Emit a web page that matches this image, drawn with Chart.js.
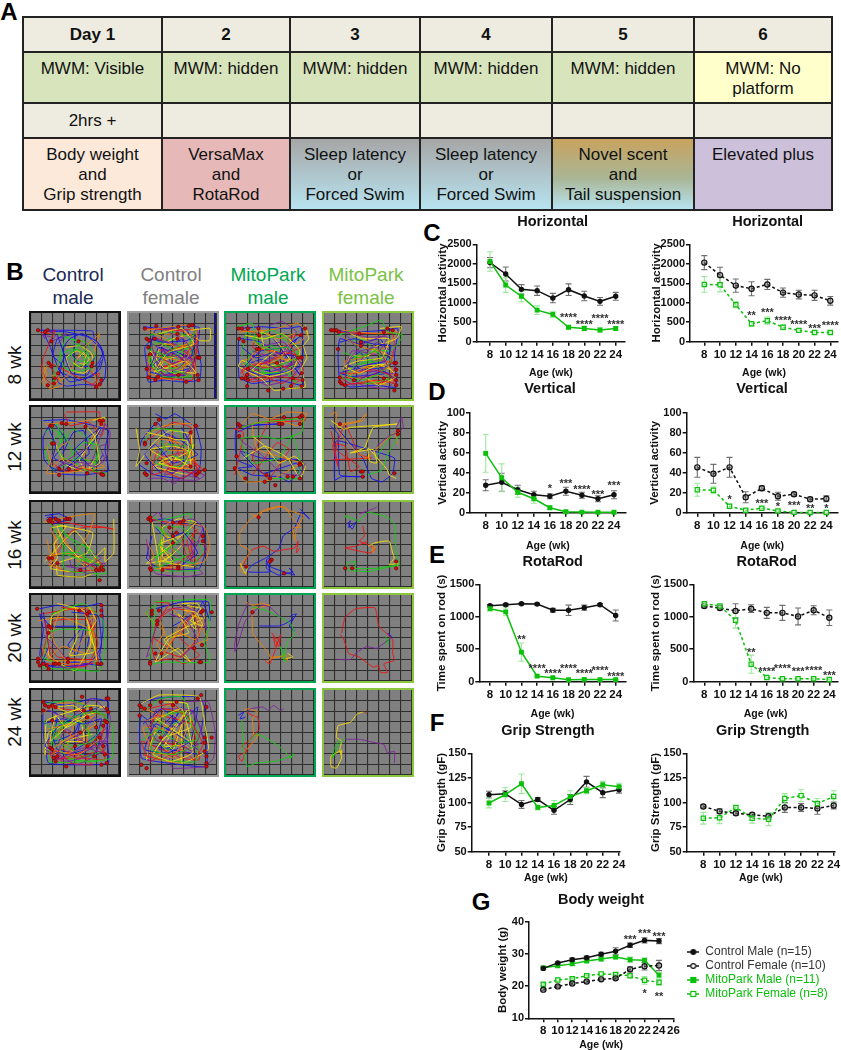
<!DOCTYPE html>
<html>
<head>
<meta charset="utf-8">
<title>MitoPark behaviour</title>
<script src="https://cdn.jsdelivr.net/npm/chart.js@4/dist/chart.umd.min.js"></script>
<style>
  html, body { margin: 0; background: #fff; }
  #page { position: relative; width: 841px; height: 1050px; overflow: hidden; font-family: "Liberation Sans", Arial, sans-serif; }
  #page canvas { position: absolute; }
  .txt { position: absolute; white-space: nowrap; transform: translate(-50%, -50%); line-height: 1; }
  .arena { position: absolute; box-sizing: border-box; border-style: solid; border-width: 2px; background: #808080; }
  table { position: absolute; left: 22px; top: 16px; width: 809px; height: 194px; border-collapse: collapse; table-layout: fixed; font-size: 17px; color: #111; }
  td { border: 2px solid #222; padding: 6px 0 0; text-align: center; vertical-align: top; line-height: 20px; }
  tr.mid td { vertical-align: middle; padding: 0; font-weight: bold; }
  tr.plain td { vertical-align: middle; padding: 0; }
  .d { background: #eeece1; }
  .g { background: #d8e4bc; }
  .y { background: #ffffcc; }
</style>
</head>
<body>
<div id="page">
  <table>
    <colgroup><col style="width:139px"><col style="width:128px"><col style="width:130px"><col style="width:132px"><col style="width:142px"><col style="width:138px"></colgroup>
    <tr class="mid" style="height:35px"><td class="d">Day 1</td><td class="d">2</td><td class="d">3</td><td class="d">4</td><td class="d">5</td><td class="d">6</td></tr>
    <tr style="height:51px"><td class="g">MWM: Visible</td><td class="g">MWM: hidden</td><td class="g">MWM: hidden</td><td class="g">MWM: hidden</td><td class="g">MWM: hidden</td><td class="y">MWM: No<br>platform</td></tr>
    <tr class="plain" style="height:35px"><td class="d">2hrs +</td><td class="d"></td><td class="d"></td><td class="d"></td><td class="d"></td><td class="d"></td></tr>
    <tr style="height:72px">
      <td style="background:#fde9d9">Body weight<br>and<br>Grip strength</td>
      <td style="background:#e6b8b7">VersaMax<br>and<br>RotaRod</td>
      <td style="background:linear-gradient(#a6a6a6,#b7e3f0)">Sleep latency<br>or<br>Forced Swim</td>
      <td style="background:linear-gradient(#a6a6a6,#b7e3f0)">Sleep latency<br>or<br>Forced Swim</td>
      <td style="background:linear-gradient(#c8a35f,#a9b594 55%,#b7e3f0)">Novel scent<br>and<br>Tail suspension</td>
      <td style="background:#ccc0da">Elevated plus</td>
    </tr>
  </table>
</div>

<script>
const ages = [8, 10, 12, 14, 16, 18, 20, 22, 24];
const bodyAgeTicks = [8, 10, 12, 14, 16, 18, 20, 22, 24, 26];

// panel C
const horizCtlM = [2030, 1738, 1344, 1310, 1120, 1335, 1173, 1036, 1165];
const horizCtlMErr = [130, 180, 120, 120, 120, 150, 120, 100, 100];
const horizMitM = [2060, 1455, 1165, 810, 700, 370, 340, 300, 340];
const horizMitMErr = [250, 190, 140, 110, 80, 40, 60, 50, 40];
const horizMaleStars = [[18, 660, "****"], [20, 490, "****"], [22, 625, "****"], [24, 490, "****"]];
const horizCtlF = [2030, 1710, 1440, 1360, 1470, 1260, 1210, 1190, 1050];
const horizCtlFErr = [180, 200, 170, 180, 130, 120, 110, 130, 110];
const horizMitF = [1470, 1460, 950, 460, 540, 370, 290, 235, 235];
const horizMitFErr = [200, 180, 80, 60, 90, 60, 40, 40, 30];
const horizFemaleStars = [[14, 700, "**"], [16, 790, "***"], [18, 580, "****"], [20, 470, "****"], [22, 385, "***"], [24, 445, "****"]];

// panel D
const vertCtlM = [27.5, 30.5, 23, 18, 16.5, 21.5, 17.5, 14, 18];
const vertCtlMErr = [5.5, 9, 4.5, 3.5, 2.5, 4, 3, 3, 4];
const vertMitM = [59.5, 35, 20.5, 14, 5, 1, 0.6, 0.5, 0.5];
const vertMitMErr = [19, 14, 5, 4.5, 1.5, 0.8, 0.5, 0.4, 0.4];
const vertMaleStars = [[16, 26, "*"], [18, 31, "***"], [20, 25, "****"], [22, 20, "***"], [24, 29, "***"]];
const vertCtlF = [45.5, 39, 45.5, 15.5, 24.5, 16.5, 18.5, 13.5, 14];
const vertCtlFErr = [10, 9.5, 10, 5.5, 2.5, 4, 2, 2, 3];
const vertMitF = [23, 22.5, 6.5, 2.5, 4.5, 1.8, 0.3, 0.2, 0.2];
const vertMitFErr = [6.5, 3.5, 2, 1, 1, 1, 0.4, 0.3, 0.3];
const vertFemaleStars = [[12, 15, "*"], [16, 11, "***"], [18, 8, "*"], [20, 8.5, "***"], [22, 6, "**"], [24, 6, "*"]];

// panel E
const rotaCtlM = [1170, 1185, 1200, 1195, 1100, 1100, 1140, 1185, 1020];
const rotaCtlMErr = [20, 20, 15, 15, 30, 80, 40, 20, 85];
const rotaMitM = [1125, 1075, 455, 85, 60, 30, 35, 32, 32];
const rotaMitMErr = [40, 60, 140, 15, 10, 8, 10, 8, 6];
const rotaMaleStars = [[12, 670, "**"], [14, 220, "****"], [16, 150, "****"], [18, 220, "****"], [20, 145, "****"], [22, 190, "****"], [24, 110, "****"]];
const rotaCtlF = [1165, 1135, 1090, 1125, 1060, 1060, 1005, 1100, 985];
const rotaCtlFErr = [25, 30, 110, 60, 85, 115, 130, 70, 120];
const rotaMitF = [1200, 1165, 945, 270, 65, 45, 45, 45, 35];
const rotaMitFErr = [20, 20, 120, 140, 20, 12, 10, 10, 8];
const rotaFemaleStars = [[14, 480, "**"], [16, 180, "****"], [18, 220, "****"], [20, 180, "***"], [22, 190, "****"], [24, 120, "***"]];

// panel F
const gripCtlM = [108, 109, 98, 103, 92, 103, 121, 110, 113];
const gripCtlMErr = [3.5, 3, 4, 2, 4, 5, 5.5, 5, 3.5];
const gripMitM = [99.5, 108, 119, 95, 97, 106, 112, 118, 116];
const gripMitMErr = [5, 7, 10, 2.5, 5, 6, 3, 3.5, 3.5];
const gripCtlF = [96, 91, 89, 87.5, 86, 95, 95, 94, 97];
const gripCtlFErr = [1.5, 2.5, 2, 1.5, 3, 5, 4, 6, 3.5];
const gripMitF = [84, 84.5, 95, 84, 83, 104, 107, 99, 106];
const gripMitFErr = [6, 6, 2, 5, 6.5, 5, 6, 5, 6];

// panel G
const bodyCtlM = [25.5, 27.2, 28.2, 28.8, 29.9, 30.8, 32.7, 34.2, 34];
const bodyCtlMErr = [0.4, 0.3, 0.5, 0.5, 0.6, 1.1, 0.7, 0.8, 0.8];
const bodyCtlF = [18.9, 19.9, 20.8, 21.4, 22.1, 22.4, 25.2, 26.2, 26.4];
const bodyCtlFErr = [0.3, 0.3, 0.3, 0.3, 0.3, 0.3, 0.8, 1.2, 1.6];
const bodyMitM = [25.7, 26.3, 26.9, 27.8, 28.4, 29, 28.2, 28, 23.4];
const bodyMitMErr = [0.3, 0.5, 0.5, 0.4, 0.6, 0.6, 0.8, 0.8, 0.8];
const bodyMitF = [20.6, 21.9, 22.3, 23.2, 23.8, 23.6, 23.2, 21.8, 21.2];
const bodyMitFErr = [0.4, 0.3, 0.4, 0.5, 0.5, 0.5, 0.6, 1.2, 1];
const bodyStars = [[20, 35, "***"], [22, 36.9, "***"], [24, 36, "***"], [22, 18.2, "*"], [24, 17.2, "**"]];
const bodyLabels = ["Control Male (n=15)", "Control Female (n=10)", "MitoPark Male (n=11)", "MitoPark Female (n=8)"];

// panel B, open field tracks, percent of the box
// colours repeat every six rows: blue, red, orange, yellow, green, purple
const trackColors = ["#1010f0", "#f01010", "#f08000", "#f5e000", "#10d010", "#8020a0"];

const wk8CtlM = [
  [8,20,30,20,70,21,72,30,80,40,85,60,84,75,78,84,60,83,40,85,30,80,35,60,25,50,30,30,50,25,48,50,60,62,75,60,82,45,65,28,40,22,15,22,22,40,33,68,55,78,72,72,80,55],
  [10,22,20,24,28,20,22,32,14,52,12,66,18,78,26,84,32,76,24,66,20,58,30,62,72,84,80,80,74,86],
  [12,70,18,62,14,74,20,86,30,82,24,72,34,78,42,72,60,40,72,30,78,24,68,58,74,78,78,88],
  [40,40,55,38,68,46,72,60,60,70,45,66,40,52,52,44,62,50,58,64,48,58],
  [30,24,45,30,62,34,72,48,70,62,55,68,38,64,34,48,48,42,62,46,68,56,52,62,42,52,55,36,40,28,24,84,28,76],
  [18,20,28,26,22,34,40,24,30,36],
  [30,26,38,50,32,66,44,80,62,76,78,66,82,50,76,34,58,24,44,30,36,42,46,70,64,72,72,52],
  [66,66,72,72,78,70,74,80,68,84],
  [14,60,18,72,12,80,22,88,36,84,30,72],
  [54,52,60,46,66,54,60,60,54,58],
  [46,34,58,40,66,48,60,56,50,54,44,46,54,42,64,60,70,68],
  [12,24,16,30,14,26,24,28]
];
const wk8CtlMDots = [8,20,16,22,19,20,23,33,54,33,20,58,23,62,31,70,27,76,26,82,19,84,70,58,69,62,80,78,78,83,74,86];
const wk8CtlF = [
  [16,16,40,18,60,15,80,17,78,40,82,60,80,78,60,80,40,78,22,80,20,60,18,40,30,28,50,60,70,45,60,30,35,55,30,74,55,68,75,62,66,20,30,20,24,45,48,72,70,72],
  [18,18,50,20,78,20,76,48,72,78,45,76,24,76,22,50,40,42,60,55,40,62,62,62,78,44,50,36,28,28],
  [20,20,70,14,78,30,60,38,30,36,22,58,50,50,70,58,34,70,58,76,76,66,60,25,40,25],
  [70,20,92,18,92,32,80,32,70,25,50,30,35,40,30,62,52,70,70,68,60,50,40,55,30,72,26,50],
  [22,26,50,22,68,28,74,50,66,70,40,68,22,56,30,32,55,45,72,40,60,62,28,66,24,40,48,30,62,46,46,60],
  [30,30,56,38,70,52,50,58,28,50,40,44,66,44,74,66,50,72,32,58,50,46,68,60],
  [22,30,40,34,66,32,76,26,70,52,50,44,28,60,44,74,70,66,56,50,34,40,24,68,60,76],
  [22,62,40,72,66,70,74,56,56,40,36,50,52,62,68,44,78,32,64,22,44,18],
  [24,22,42,30,54,42,72,34,60,66,40,56,22,70,50,78,66,58,30,50],
  [34,24,60,18,74,36,44,46,30,68,64,56,76,70,40,64,24,44],
  [76,20,66,40,46,52,30,44,50,66,72,74,40,74,26,60,60,36],
  [44,22,62,30,72,46,54,66,34,64,26,36,48,50,74,54,62,72,38,72]
];
const wk8CtlFDots = [18,18,31,15,56,16,68,15,72,14,20,30,23,32,29,30,55,24,55,30,22,40,24,48,78,52,80,52,20,65,22,75,30,78,33,74,56,72,78,72,79,78,65,80];
const wk8MitM = [
  [14,18,40,16,70,18,85,16,88,40,86,60,88,84,60,78,30,82,15,75,14,50,15,30,40,34,60,48,80,30,62,60,40,54,25,60,52,68,74,60,84,72,50,24],
  [18,20,36,24,30,40,50,44,85,50,70,62,40,64,22,72,30,80,60,74,84,78,74,84,88,66,70,30,88,24],
  [15,22,50,20,82,12,92,24,84,34,60,40,40,50,18,56,30,72,66,66,86,56,56,52,30,32],
  [90,14,94,30,88,38,92,52,86,64,90,86,70,88,55,90,40,76,14,62,18,55,30,60,50,62,72,54,55,30,40,22,44,44],
  [12,16,30,12,34,30,60,28,82,40,78,60,56,70,24,66,28,46,52,38,64,50,40,70,72,70,80,82,24,22,18,50],
  [50,14,64,10,80,22,68,44,44,58,70,72,46,74,26,58,38,40,66,34,78,60,50,52,30,70],
  [18,40,34,52,54,46,76,50,84,62,62,70,38,72,20,64,40,44,66,40,86,26],
  [16,70,30,60,56,58,80,70,64,82,44,74,24,78,18,66,44,58,72,46,86,40],
  [40,20,60,30,78,24,62,52,40,62,28,50,46,40,70,56,82,52],
  [22,26,44,30,64,24,84,44,76,66,50,74,30,66,56,44],
  [20,58,44,66,68,58,84,50,70,40,46,42,30,30,52,20,72,30],
  [30,44,48,50,72,44,86,60,70,78,46,84,24,70,40,56,62,68,80,56]
];
const wk8MitMDots = [14,18,18,18,25,18,37,18,38,26,15,30,20,33,35,42,38,42,90,18,85,26,82,52,86,52,25,65,24,72,22,76,25,78,18,76,24,85,86,70,87,78,86,85,76,76,74,85,65,88,48,90,58,58];
const wk8MitF = [
  [10,20,40,22,70,20,84,18,80,50,82,86,60,84,30,86,18,80,16,50,18,30,40,36,64,30,76,60,48,66,26,60,40,46,70,70,30,74],
  [12,22,45,24,78,24,80,40,74,62,50,74,20,76,30,82,70,80,82,60,60,55,40,70],
  [20,20,60,24,84,22,70,40,44,52,24,56,32,76,60,72,80,80,66,46,44,28],
  [64,18,88,16,82,30,60,38,50,50,30,50,22,66,46,62,70,60,82,74,62,84,46,74],
  [16,26,50,14,65,8,72,22,90,26,76,44,48,42,28,58,18,74,50,82,74,76,56,58,30,32,46,32,66,54,40,60],
  [14,20,50,28,72,28,60,48,32,44,22,70,44,84,72,88,84,72,56,68,34,66,60,34,78,46],
  [18,34,34,30,56,36,76,38,70,56,50,60,30,66,18,70,40,76,68,68,80,76],
  [18,70,36,70,56,66,74,72,82,82,60,78,36,82,20,84],
  [24,30,44,40,62,44,78,52,66,62,44,64,26,74,50,78,72,84],
  [30,24,44,30,74,30,66,52,38,56,24,62,40,70,62,60,76,66],
  [22,46,40,52,58,44,76,56,64,70,44,78,26,72,36,60,56,54],
  [26,26,40,44,60,40,72,62,50,70,34,84,24,78,30,52,48,34,70,26]
];
const wk8MitFDots = [8,20,11,20,14,20,17,22,40,24,68,22,72,18,78,20,42,34,42,38,16,42,80,58,82,58,82,66,82,72,82,78,82,84,80,90,18,75,18,80,20,82,24,84,34,78,68,76];

const wk12CtlM = [
  [14,16,40,15,72,22,88,28,84,50,88,75,60,80,30,78,15,62,14,35,24,18,40,40,26,60,45,68,66,55,60,28,48,30,36,55],
  [40,6,78,6,78,14,84,20,80,34,66,18,44,22,38,8],
  [16,20,50,18,80,14,72,30,60,60,84,70,50,76,18,78,28,50,44,40],
  [70,16,84,12,80,24,55,62,62,76,40,68,28,44],
  [16,30,30,20,34,42,48,26,68,40,76,66,54,60,26,74,16,52,36,28,55,72,86,78],
  [30,62,48,70,64,76,86,58,90,30,84,20,68,66,46,64,28,72,60,50],
  [20,24,28,46,22,70,36,76,52,60,72,40,80,24,64,36,50,50,70,72,82,56],
  [24,66,40,76,60,72,76,78,84,74],
  [18,46,24,70,36,60,54,70,72,74],
  [60,20,72,34,78,66,66,72,72,62],
  [24,26,36,34,30,50,40,62,60,42,78,46,70,76],
  [50,72,62,68,74,70,84,62,78,46,88,44]
];
const wk12CtlMDots = [22,22,24,22,35,19,40,20,62,23,78,16,82,16,80,20,24,43,26,43,32,73,43,73,64,78,80,79,82,80,32,80];
const wk12CtlF = [
  [30,8,42,14,52,8,68,18,76,24,82,48,80,72,60,84,30,80,10,66,14,40,32,18,48,46,28,66,50,78,72,50,60,24],
  [20,40,50,18,70,24,70,50,78,78,50,72,32,52,26,80,60,66,46,34,76,66,84,74,60,54,30,62],
  [18,34,40,22,72,20,68,60,50,80,24,62,36,38,62,44,76,62,40,62],
  [8,25,12,50,8,70,28,42,46,28,70,32,72,62,40,60,24,50,50,46,68,52,46,64,28,70,66,80],
  [16,42,28,26,56,28,64,46,42,44,30,66,56,70,74,58],
  [22,84,38,84,52,90,62,80,80,84,60,74,40,80,70,30,80,22],
  [40,30,60,40,78,56,50,66,30,44,18,56,36,78],
  [40,64,56,74,72,66,78,72,60,84,42,76,56,62],
  [50,30,40,50,64,52,72,72,46,70,30,56],
  [20,30,38,34,52,38,66,40,70,70,50,58,34,66,60,72,74,44],
  [36,40,48,56,64,62,72,42],
  [72,76,86,80,78,86,58,86,46,86]
];
const wk12CtlFDots = [34,15,30,20,70,30,76,22,18,42,18,44,20,66,18,78,20,80,70,70,78,78,80,76,86,74,76,80];
const wk12MitM = [
  [12,30,30,22,60,20,12,24,12,62,30,70,14,72,30,80,60,82,72,88,84,74,80,66,42,78,16,52,40,60,82,62],
  [10,80,14,62,20,30,10,26,40,18,90,16,88,10,72,14,50,16,30,60,48,84,72,50,58,42,30,80],
  [16,22,30,8,50,14,70,6,92,8,82,22,60,16,30,20,36,50,84,66,50,86,22,88,10,70],
  [30,34,44,46,60,66,78,58,90,70,84,84,70,60,44,46,20,60],
  [16,24,40,18,88,14,86,30,60,38,40,34,16,38,30,66,60,60,76,34,84,64,82,84,50,84],
  [10,30,20,42,40,56,64,78,84,80,90,66]
];
const wk12MitMDots = [14,20,16,22,15,34,60,20,64,20,66,12,86,10,84,12,84,20,84,66,84,68,12,58,10,72,22,84,44,88,46,80,50,84,70,82,76,82,84,84,56,92];
const wk12MitF = [
  [7,22,16,32,18,80,46,82,20,82,12,86,14,40,50,50,80,60,78,78,66,88,54,84,44,60,14,24],
  [8,28,16,70,10,44,24,46,30,76,40,70,14,50,24,20,40,56,54,60,10,62],
  [6,10,14,6,14,20,40,16,48,8,44,16,14,24,34,50,48,60,80,30,84,44],
  [8,16,22,26,30,24,84,20,56,24,46,48,30,54,56,50,60,66,52,64,50,48,72,74,74,80,82,84],
  [60,58,68,46,78,32,86,32,72,56,66,74,50,80],
  [82,24,88,12,90,24,84,30,74,34,60,46]
];
const wk12MitFDots = [18,20,84,28,84,32,42,76,44,76,44,82,80,78];

const wk16CtlM = [
  [18,18,28,18,34,22,24,26,18,20],
  [20,24,40,24,70,30,84,30,94,32,72,28,46,34,30,60,20,70,40,82,74,80],
  [14,24,40,18,72,14,66,36,50,60,30,34,24,70,18,64,40,60,78,72,52,68,72,84],
  [94,20,94,60,84,70,84,54,64,74,38,48,30,28,70,36,64,60,30,72,30,86,60,88,80,78,50,34,16,70],
  [22,24,36,50,38,80,70,84,86,84,68,56,40,40,30,26,66,70,36,60,56,60,78,90],
  [56,70,70,74,84,72,82,80,64,84,46,76,44,68],
  [16,16,32,14,44,20,30,24,22,14],
  [60,70,74,78,82,74,72,66],
  [22,30,30,50,26,68,20,74,34,78,22,60,18,44],
  [24,30,40,28,26,50,30,66,22,78,44,82],
  [30,40,46,62,60,50,72,70,84,78,60,66,50,80],
  [40,76,60,78,80,66,70,60]
];
const wk16CtlMDots = [20,22,22,20,24,24,28,20,32,22,40,20,42,20,44,20,20,66,24,66,30,72,56,80,74,80,78,80,80,76,82,80,78,92];
const wk16CtlF = [
  [24,22,40,20,60,24,84,30,86,62,80,78,50,80,30,76,20,66,26,40],
  [24,20,56,26,70,28,82,40,88,56,76,70,70,50,74,36,70,60,56,72,40,78,62,80],
  [20,46,28,62,24,78,56,76,86,70,92,50,86,30,60,24,34,50,46,66],
  [26,22,36,80,38,30,56,20,76,24,36,60,20,72,42,68,60,50,40,40,38,64,46,72,74,76],
  [26,16,34,22,70,14,66,40,28,66,50,50,30,28,70,60,26,80,80,80,50,54],
  [26,18,34,12,40,26,72,20,84,30,70,70,84,84,66,88,30,84,22,60,20,44],
  [30,30,44,44,62,36,78,60,60,74],
  [60,40,64,60,72,70,66,46,78,32],
  [36,28,50,58,30,72,44,82],
  [40,56,48,62,38,70,50,70,34,50,58,40],
  [34,48,52,66,74,72,84,56,60,30,40,30,30,78],
  [44,34,62,52,80,46,64,70]
];
const wk16CtlFDots = [22,20,24,18,25,22,50,24,58,24,62,22,84,40,84,46,50,40,46,30,54,36,50,48,24,78,25,80,38,80,56,76,56,78];
const wk16MitM = [
  [84,8,95,20,86,12,78,30,65,40,60,55,45,66,30,74,24,82,50,82,46,68,50,66,50,76,78,86,72,78,76,82,60,86,46,78,46,68],
  [20,74,24,64,30,56,42,52,55,58,66,56,78,54,82,46,80,60,84,54],
  [28,14,37,18,42,10,60,5,72,10,88,16,80,32,78,46,76,30,85,30,76,20,66,5,40,12,28,20,16,36,16,50,28,58,18,72,16,80,24,86],
  [16,72,22,84,25,76],
  [],
  []
];
const wk16MitMDots = [37,18,23,76,52,68,50,70,66,84];
const wk16MitF = [
  [26,26,30,22,28,30,36,24,32,32,28,26],
  [44,28,46,40,40,46,50,50,58,56,52,60,24,54,36,52,50,46],
  [55,50,56,60,58,52,54,58],
  [50,52,58,48,74,46,78,60,80,66,74,74,84,72,82,80],
  [26,20,24,16,40,22,50,12,72,18,80,26,82,60,86,74,76,76,50,82,28,80,26,72,36,70,36,78,60,78,84,74],
  [40,14,56,8,60,6]
];
const wk16MitFDots = [24,78,32,78,82,70,82,78];

const wk20CtlM = [
  [10,16,30,12,60,14,80,10,82,40,78,70,80,82,50,78,20,82,10,70,14,40,10,22,22,36,58,37,42,58,52,70,60,40,70,28,64,60],
  [12,22,50,16,74,20,70,50,76,78,40,82,12,78,18,50,26,30,50,28,66,30,72,74,30,72,22,60],
  [8,30,36,26,66,40,40,76,24,48,34,18,70,16,66,68,36,60,18,76,62,76],
  [30,10,60,18,68,56,50,88,20,70,24,24,50,14,52,50,44,70,72,66,64,28],
  [24,22,60,10,82,30,84,60,78,88,34,86,14,84,20,44,32,40,70,42,72,84],
  [14,46,30,62,50,84,70,78,80,66],
  [14,20,20,60,12,80,30,84,66,80,80,60,76,24,46,20],
  [16,30,22,70,36,84,64,82,76,56,60,20,34,14],
  [12,60,24,78,50,80,74,74,68,24],
  [66,14,74,30,66,44,72,60,76,84],
  [12,72,40,84,66,88],
  [24,78,42,86,60,80]
];
const wk20CtlMDots = [7,16,8,74,8,78,10,82,14,80,18,82,20,86,26,80,28,80,32,80,42,74,42,78,76,80,80,80,80,12,80,18,80,24,66,20,64,22,55,18,20,36,22,38,20,44];
const wk20CtlF = [
  [30,16,60,8,90,8,92,30,84,8,78,18,60,30,50,36],
  [28,8,46,10,32,30,26,60,30,76,50,74,62,80,80,70,58,50,70,24,44,60,28,50],
  [18,20,30,34,40,42,32,58,40,68,62,26,70,14,86,44,90,52,68,60,54,74,36,30,46,14,70,40],
  [60,10,78,10,86,28,72,24,76,40,56,22,68,44,46,50,30,78,56,62,70,78,40,52,80,30],
  [28,8,92,6,90,40,86,56,92,78,40,78,24,80,26,50,30,12,20,20,28,34],
  [24,68,20,72,30,40,42,18,64,14,84,24,88,40,70,10],
  [],
  [30,30,50,16,72,20,80,46,60,72,40,66],
  [56,10,70,22,84,30,76,52,56,44,38,70],
  [66,12,82,16,70,30,84,36,76,20,62,18],
  [],
  [46,22,66,30,78,54,58,72]
];
const wk20CtlFDots = [26,18,26,22,34,18,32,30,32,34,82,20,84,18,94,20,83,58,74,62,30,68,37,68,24,78,24,80,80,78,82,78];
const wk20MitM = [
  [38,36,60,36,66,34,76,28,74,24,80,22,72,36,78,42],
  [52,44,56,50,60,52,56,60,54,48,60,60,62,46,50,80,44,76],
  [22,8,30,12,40,10,50,12,30,16,30,34,30,44,42,60,48,66,50,72,60,72,64,72,70,76,68,70,52,74,46,78],
  [68,74,76,72,70,68],
  [30,14,46,18,62,26,74,34,78,46,70,54,66,72,62,60,68,78,62,70],
  [26,8,20,20,14,36,10,56,10,66,14,56,22,30,40,12,50,14,62,26]
];
const wk20MitMDots = [30,20];
const wk20MitF = [
  [72,44,76,48,74,46,78,50],
  [20,44,24,26,36,16,58,15,62,36,66,40,78,52,78,68,80,76,68,80,72,90,64,90,62,82,56,84,40,72,28,68,22,50,18,46],
  [],
  [],
  [70,48,72,56,74,50,70,58],
  [15,75,30,75,38,66,48,60,60,62,76,50]
];
const wk20MitFDots = [];

const wk24CtlM = [
  [16,14,40,18,70,10,88,14,86,50,88,86,60,88,20,86,14,50,14,24,30,28,26,60,50,50,60,18,50,70,80,50,72,76,30,70,22,44],
  [18,20,50,24,84,30,80,60,84,82,60,80,24,80,20,60,34,46,70,70,60,56,34,84,70,88,44,68],
  [12,28,30,16,60,16,72,30,50,40,40,66,24,76,60,70,66,44,40,30,30,56,60,84],
  [24,18,42,26,66,18,84,20,50,24,18,36,16,76,20,50,56,36,60,60,36,60,70,52],
  [18,16,46,12,74,24,92,40,92,80,66,84,20,84,30,40,62,40,70,80,30,60,46,28,80,72,42,82],
  [20,24,44,34,70,10,90,30,84,70,52,88,28,72,40,46,62,62,86,60,50,78,74,64],
  [14,40,36,34,60,40,80,34,70,66,40,76,16,66,30,44,56,28,78,20],
  [18,76,36,70,52,80,76,72,88,76,70,62,84,46,60,72,30,82],
  [18,46,44,40,60,26,74,40,44,56,24,70,54,76,80,56],
  [30,20,48,18,62,30,40,44,28,30,22,60,48,36,74,26],
  [14,36,32,56,48,66,70,60,86,30,66,26,40,36,24,60,46,82,76,84],
  [16,70,40,84,70,76,88,50,72,32,56,52,36,62,28,82,60,68,82,74]
];
const wk24CtlMDots = [14,14,16,18,14,24,20,20,24,18,28,20,58,8,86,10,88,10,86,22,88,26,84,36,86,38,82,42,74,44,64,32,60,24,68,22,24,36,56,50,64,66,78,56,82,66,22,68,24,70,26,80,28,84,30,78,84,76,86,86,80,88,40,90,50,66,72,78];
const wk24CtlF = [
  [12,16,30,10,50,8,80,8,86,20,82,50,88,60,88,90,60,88,30,84,14,80,12,50,14,30,40,50,60,20,34,70,66,60,50,30,24,64,80,76],
  [14,24,50,16,62,30,50,66,24,84,14,60,60,80,80,82,70,40,30,30,24,56,66,68],
  [14,20,40,34,36,64,60,86,30,80,16,44,50,50,70,70,74,38,44,18,22,72,54,76],
  [14,16,34,6,80,8,86,40,90,70,60,86,60,40,50,70,30,50,20,82,66,24,40,66,70,62,26,30],
  [16,26,36,10,60,8,70,30,40,46,30,80,76,84,78,40,52,24,20,46,44,70,72,52],
  [60,14,90,14,98,50,96,80,86,90,50,92,46,80,84,60,72,24,30,24,22,80,48,40],
  [16,40,38,22,58,40,78,20,70,60,44,74,18,70,30,40,54,52,78,70],
  [16,76,36,82,60,70,74,82,84,64,66,30,38,22,22,44],
  [20,36,48,28,66,44,50,80,30,70,20,56,44,42,62,72],
  [40,14,66,16,70,44,40,56,28,76,48,84,72,74,60,22,30,36],
  [14,60,34,46,56,62,78,58,62,26,42,30,24,70,50,76,76,66],
  [34,30,54,44,70,24,82,46,72,72,52,60,32,60,18,36]
];
const wk24CtlFDots = [12,18,14,20,18,22,24,18,12,30,36,14,50,18,54,14,78,10,82,6,88,20,36,56,86,56,94,56,86,62,86,72,88,78,88,86,88,90,14,88,20,92];
const wk24MitM = [
  [14,30,20,26,16,34,22,32],
  [24,26,30,30,36,32,38,46,34,50,26,60,18,66,24,72,14,78,18,84,22,74,28,62],
  [20,24,26,22,36,26,30,34,32,54,38,52,24,70],
  [],
  [18,36,20,70,24,90,34,86,56,84,68,80,76,78,76,75,74,80,60,66,36,52,26,60],
  [24,26,28,22,42,20,48,24,54,18,62,24,66,22]
];
const wk24MitMDots = [];
const wk24MitF = [
  [],
  [46,25,48,28],
  [],
  [44,26,38,28,30,38,16,42,14,56,20,60,18,70,20,80,14,92,8,90,8,78,18,72,20,76,20,70],
  [18,58,10,72,10,80,16,66,24,56],
  [24,58,40,58,58,62,68,64,72,74,80,72,80,86]
];
const wk24MitFDots = [];

const arenaTracks = [
  [wk8CtlM, wk8CtlF, wk8MitM, wk8MitF],
  [wk12CtlM, wk12CtlF, wk12MitM, wk12MitF],
  [wk16CtlM, wk16CtlF, wk16MitM, wk16MitF],
  [wk20CtlM, wk20CtlF, wk20MitM, wk20MitF],
  [wk24CtlM, wk24CtlF, wk24MitM, wk24MitF]
];
const arenaDots = [
  [wk8CtlMDots, wk8CtlFDots, wk8MitMDots, wk8MitFDots],
  [wk12CtlMDots, wk12CtlFDots, wk12MitMDots, wk12MitFDots],
  [wk16CtlMDots, wk16CtlFDots, wk16MitMDots, wk16MitFDots],
  [wk20CtlMDots, wk20CtlFDots, wk20MitMDots, wk20MitFDots],
  [wk24CtlMDots, wk24CtlFDots, wk24MitMDots, wk24MitFDots]
];

// ---- layout and styles ----
const page = document.getElementById("page");
const FONT = "'Liberation Sans', Arial, sans-serif";
const GREEN = "#0cc00c";
Chart.defaults.font.family = FONT;
Chart.defaults.animation = false;
Chart.defaults.responsive = false;

const styleCtlM = { borderColor: "#111", pointBackgroundColor: "#111", pointBorderColor: "#111", pointStyle: "circle", pointRadius: 2.1, errColor: "#6f6f6f" };
const styleCtlF = { borderColor: "#111", borderDash: [3, 2.5], pointBackgroundColor: "rgba(120,120,120,.45)", pointBorderColor: "#111", pointStyle: "circle", pointRadius: 2.6, errColor: "#6f6f6f" };
const styleMitM = { borderColor: GREEN, pointBackgroundColor: GREEN, pointBorderColor: GREEN, pointStyle: "rect", pointRadius: 2.6, errColor: "#9fe69f" };
const styleMitF = { borderColor: GREEN, borderDash: [3, 2.5], pointBackgroundColor: "rgba(255,255,255,.5)", pointBorderColor: GREEN, pointStyle: "rect", pointRadius: 3, errColor: "#9fe69f" };

function addText(text, x, y, size, color, bold, rotate) {
  const el = document.createElement("div");
  el.className = "txt";
  el.textContent = text;
  el.style.left = x + "px";
  el.style.top = y + "px";
  el.style.fontSize = size + "px";
  el.style.color = color;
  if (bold) el.style.fontWeight = "bold";
  if (rotate) el.style.transform = "translate(-50%,-50%) rotate(-90deg)";
  page.appendChild(el);
}

function addCanvas(parent, left, top, w, h) {
  const c = document.createElement("canvas");
  c.width = w;
  c.height = h;
  c.style.left = left + "px";
  c.style.top = top + "px";
  parent.appendChild(c);
  return c;
}

function pairs(flat) {
  const out = [];
  for (let i = 0; i < flat.length; i += 2) out.push({ x: flat[i], y: flat[i + 1] });
  return out;
}

// error bars and significance stars, both placed through the chart's scales
function extrasPlugin(cfg) {
  return {
    id: "extras",
    afterLayout(chart) {
      const mid = (chart.chartArea.left + chart.chartArea.right) / 2;
      const shift = cfg.titleX - cfg.canvasLeft - mid;
      chart.titleBlock.left += shift;
      chart.titleBlock.right += shift;
      if (chart.legend && cfg.legendGap) {
        // legend sits right of the axis, and it clips to its own box
        chart.legend.left = chart.chartArea.right + cfg.legendGap;
        chart.legend.right = chart.width;
        chart.legend.top += 2;
        chart.legend.bottom += 2;
      }
    },
    beforeDatasetsDraw(chart) {
      const ctx = chart.ctx, xs = chart.scales.x, ys = chart.scales.y;
      ctx.save();
      ctx.lineWidth = 1.1;
      for (let d = chart.data.datasets.length - 1; d >= 0; d--) {
        const ds = chart.data.datasets[d];
        ctx.strokeStyle = ds.errColor;
        ds.data.forEach((p, i) => {
          const px = xs.getPixelForValue(p.x);
          const hi = ys.getPixelForValue(p.y + ds.errs[i]);
          const lo = ys.getPixelForValue(p.y - ds.errs[i]);
          ctx.beginPath();
          ctx.moveTo(px, hi); ctx.lineTo(px, lo);
          ctx.moveTo(px - 3, hi); ctx.lineTo(px + 3, hi);
          ctx.moveTo(px - 3, lo); ctx.lineTo(px + 3, lo);
          ctx.stroke();
        });
      }
      ctx.restore();
    },
    afterDatasetsDraw(chart) {
      const ctx = chart.ctx;
      ctx.save();
      ctx.fillStyle = "#333";
      ctx.font = "bold 11px " + FONT;
      ctx.textAlign = "center";
      ctx.textBaseline = "middle";
      (cfg.stars || []).forEach(s => {
        ctx.fillText(s[2], chart.scales.x.getPixelForValue(s[0]), chart.scales.y.getPixelForValue(s[1]) + 2);
      });
      ctx.restore();
    }
  };
}

function makeLinePanel(cfg) {
  const titleSize = 14.5, axisSize = 10.5, yAxisSize = 11.5;
  const canvasLeft = Math.round(cfg.yTitleX - yAxisSize * 0.6);
  const canvasTop = Math.round(cfg.titleY - titleSize * 0.6);
  const perWeek = (cfg.x24 - cfg.x8) / 16;
  const canvasRight = cfg.canvasRight || Math.min(860, Math.ceil(cfg.right + 16));
  const W = canvasRight - canvasLeft;
  const H = Math.ceil(cfg.ageY + axisSize * 0.6 - canvasTop);
  cfg.canvasLeft = canvasLeft;
  const tickList = cfg.xTicks || ages;
  const legendW = cfg.legend ? 140 : 0;
  const c = addCanvas(page, canvasLeft, canvasTop, W, H);
  new Chart(c, {
    type: "scatter",
    data: {
      datasets: cfg.series.map(s => Object.assign({
        label: s.label || "",
        data: ages.map((a, k) => ({ x: a, y: s.vals[k] })),
        errs: s.errs,
        showLine: true,
        borderWidth: 1.5,
        pointBorderWidth: 1.2,
        clip: false
      }, s.style))
    },
    options: {
      layout: { autoPadding: false, padding: { right: W - (cfg.right - canvasLeft) - legendW } },
      plugins: {
        tooltip: { enabled: false },
        title: {
          display: true, text: cfg.title, fullSize: false,
          color: "#111",
          font: { size: titleSize, weight: "bold" },
          padding: { top: 0, bottom: cfg.top - canvasTop - titleSize * 1.2 }
        },
        legend: cfg.legend ? {
          display: true, position: "right", align: "center", maxWidth: legendW,
          labels: {
            usePointStyle: true, pointStyleWidth: 12, padding: 2,
            font: { size: 12, lineHeight: 1 },
            generateLabels(chart) {
              return Chart.defaults.plugins.legend.labels.generateLabels(chart).map(item => {
                const st = cfg.series[item.datasetIndex].style;
                item.pointStyle = legendIcon(st);
                item.fontColor = st.borderColor === GREEN ? GREEN : "#333";
                return item;
              });
            }
          }
        } : { display: false }
      },
      scales: {
        x: {
          type: "linear",
          min: 8 - (cfg.x8 - cfg.left) / perWeek,
          max: 8 + (cfg.right - cfg.x8) / perWeek,
          afterBuildTicks(scale) { scale.ticks = tickList.map(v => ({ value: v })); },
          afterFit(scale) { scale.height = H - (cfg.bottom - canvasTop); },
          border: { color: "#111", width: 1.5 },
          grid: { drawOnChartArea: false, color: "#111", lineWidth: 1.5, tickLength: 4 },
          ticks: { color: "#111", padding: 2, maxRotation: 0, autoSkip: false, font: { size: 11.5, weight: "bold" }, callback: v => v },
          title: { display: true, text: "Age (wk)", color: "#111", padding: 0, font: { size: axisSize, weight: "bold" } }
        },
        y: {
          min: cfg.yMin, max: cfg.yMax,
          afterFit(scale) { scale.width = cfg.left - canvasLeft; },
          border: { color: "#111", width: 1.5 },
          grid: { drawOnChartArea: false, color: "#111", lineWidth: 1.5, tickLength: 4 },
          ticks: { color: "#111", padding: 1, stepSize: cfg.yStep, font: { size: 11, weight: "bold" }, callback: v => v },
          title: { display: true, text: cfg.yLabel, color: "#111", padding: 0, font: { size: yAxisSize, weight: "bold" } }
        }
      }
    },
    plugins: [extrasPlugin(cfg)]
  });
}

function legendIcon(st) {
  const c = document.createElement("canvas");
  c.width = 12; c.height = 8;
  const g = c.getContext("2d");
  g.strokeStyle = st.borderColor;
  g.lineWidth = 1.5;
  g.setLineDash(st.borderDash ? [3, 1.5] : []);
  g.beginPath(); g.moveTo(0, 4); g.lineTo(12, 4); g.stroke();
  g.setLineDash([]);
  g.fillStyle = st.borderDash ? "#fff" : st.borderColor;
  g.lineWidth = 1.2;
  if (st.pointStyle === "rect") { g.fillRect(3.5, 1.5, 5, 5); g.strokeRect(3.5, 1.5, 5, 5); }
  else { g.beginPath(); g.arc(6, 4, 2.4, 0, Math.PI * 2); g.fill(); g.stroke(); }
  return c;
}

function makeArena(x, y, w, h, color, tracks, dots, edge) {
  const box = document.createElement("div");
  box.className = "arena";
  box.style.cssText = `left:${x}px;top:${y}px;width:${w}px;height:${h}px;border-color:${color}` + (edge ? `;box-shadow:inset -3px 0 ${edge}` : "");
  page.appendChild(box);
  const c = addCanvas(box, 0, 0, w - 4, h - 4);
  const datasets = [];
  tracks.forEach((t, i) => {
    if (t.length) datasets.push({ data: pairs(t), showLine: true, borderColor: trackColors[i % 6], borderWidth: 0.9, tension: 0.12, pointRadius: 0 });
  });
  datasets.reverse();
  if (dots.length) datasets.unshift({ data: pairs(dots), pointRadius: 1.7, pointBackgroundColor: "#d80808", pointBorderColor: "#500", pointBorderWidth: 0.6, showLine: false });
  const axis = {
    min: 0, max: 100,
    border: { display: false },
    grid: { color: "#2e2e2e", lineWidth: 1.1, drawTicks: false },
    ticks: { display: false, stepSize: 12.5 }
  };
  new Chart(c, {
    type: "scatter",
    data: { datasets },
    options: {
      layout: { autoPadding: false, padding: 0 },
      plugins: { legend: { display: false }, tooltip: { enabled: false } },
      scales: { x: Object.assign({}, axis), y: Object.assign({ reverse: true }, axis) }
    }
  });
}

// ---- panel letters and labels ----
addText("A", 9, 12, 24, "#000", true);
addText("B", 15, 272, 24, "#000", true);
addText("C", 432, 233, 24, "#000", true);
addText("D", 437, 392, 24, "#000", true);
addText("E", 437, 555, 24, "#000", true);
addText("F", 437, 723, 24, "#000", true);
addText("G", 481, 902, 24, "#000", true);

const groupNames = [["Control", "male"], ["Control", "female"], ["MitoPark", "male"], ["MitoPark", "female"]];
const groupColors = ["#1b2a55", "#808080", "#00a651", "#7ac143"];
const boxColors = ["#111", "#9a9a9a", "#00a651", "#8cc63f"];
const boxX = [29, 127, 224, 322];
const boxW = [92, 92, 92, 92];
const boxY = [311, 405, 500, 593, 688];
const boxH = [90, 89, 89, 90, 89];
const weekNames = ["8 wk", "12 wk", "16 wk", "20 wk", "24 wk"];
const weekLabelY = [365, 447, 545, 638, 722];

groupNames.forEach((g, i) => {
  const cx = boxX[i] + boxW[i] / 2 - 2;
  addText(g[0], cx, 274, 19, groupColors[i]);
  addText(g[1], cx, 297, 19, groupColors[i]);
});
weekNames.forEach((n, r) => {
  addText(n, 14, weekLabelY[r], 19, "#111", false, true);
  groupNames.forEach((g, i) => {
    makeArena(boxX[i], boxY[r], boxW[i], boxH[r], boxColors[i], arenaTracks[r][i], arenaDots[r][i], r === 0 && i === 1 ? "#14147a" : null);
  });
});

// ---- line panels ----
function maleSeries(mit, mitErr, ctl, ctlErr) {
  return [
    { vals: mit, errs: mitErr, style: styleMitM },
    { vals: ctl, errs: ctlErr, style: styleCtlM }
  ];
}
function femaleSeries(mit, mitErr, ctl, ctlErr) {
  return [
    { vals: mit, errs: mitErr, style: styleMitF },
    { vals: ctl, errs: ctlErr, style: styleCtlF }
  ];
}

makeLinePanel({ title: "Horizontal", titleX: 552.7, titleY: 221.7, yLabel: "Horizontal activity", yTitleX: 442.7, left: 476.7, right: 625, top: 244.3, bottom: 341.7, x8: 490, x24: 615.7, ageY: 372.7, yMin: 0, yMax: 2500, yStep: 500, series: maleSeries(horizMitM, horizMitMErr, horizCtlM, horizCtlMErr), stars: horizMaleStars });
makeLinePanel({ title: "Horizontal", titleX: 767.7, titleY: 221.7, yLabel: "Horizontal activity", yTitleX: 656.7, left: 690, right: 838, top: 244.3, bottom: 341.7, x8: 704.3, x24: 830.3, ageY: 372.7, yMin: 0, yMax: 2500, yStep: 500, series: femaleSeries(horizMitF, horizMitFErr, horizCtlF, horizCtlFErr), stars: horizFemaleStars });

makeLinePanel({ title: "Vertical", titleX: 550, titleY: 389, yLabel: "Vertical activity", yTitleX: 442.7, left: 470, right: 625.7, top: 413, bottom: 512.7, x8: 485.7, x24: 614, ageY: 545, yMin: 0, yMax: 100, yStep: 20, series: maleSeries(vertMitM, vertMitMErr, vertCtlM, vertCtlMErr), stars: vertMaleStars });
makeLinePanel({ title: "Vertical", titleX: 762, titleY: 389, yLabel: "Vertical activity", yTitleX: 655, left: 686.7, right: 837.7, top: 413, bottom: 512.7, x8: 697.3, x24: 826.3, ageY: 545, yMin: 0, yMax: 100, yStep: 20, series: femaleSeries(vertMitF, vertMitFErr, vertCtlF, vertCtlFErr), stars: vertFemaleStars });

makeLinePanel({ title: "RotaRod", titleX: 552.7, titleY: 561.7, yLabel: "Time spent on rod (s)", yTitleX: 441.7, left: 479.3, right: 625.7, top: 584.3, bottom: 681.7, x8: 490, x24: 615.7, ageY: 713, yMin: 0, yMax: 1500, yStep: 500, series: maleSeries(rotaMitM, rotaMitMErr, rotaCtlM, rotaCtlMErr), stars: rotaMaleStars });
makeLinePanel({ title: "RotaRod", titleX: 766.7, titleY: 561.7, yLabel: "Time spent on rod (s)", yTitleX: 655.7, left: 693.3, right: 838, top: 584.3, bottom: 681.7, x8: 704.3, x24: 829.3, ageY: 713, yMin: 0, yMax: 1500, yStep: 500, series: femaleSeries(rotaMitF, rotaMitFErr, rotaCtlF, rotaCtlFErr), stars: rotaFemaleStars });

makeLinePanel({ title: "Grip Strength", titleX: 548, titleY: 731, yLabel: "Grip Strength (gF)", yTitleX: 441.7, left: 471.7, right: 620, top: 753.3, bottom: 851.7, x8: 489, x24: 619, ageY: 877, yMin: 50, yMax: 150, yStep: 25, series: maleSeries(gripMitM, gripMitMErr, gripCtlM, gripCtlMErr) });
makeLinePanel({ title: "Grip Strength", titleX: 762.7, titleY: 731, yLabel: "Grip Strength (gF)", yTitleX: 656, left: 686.7, right: 835, top: 753.3, bottom: 851.7, x8: 703.3, x24: 833.7, ageY: 877, yMin: 50, yMax: 150, yStep: 25, series: femaleSeries(gripMitF, gripMitFErr, gripCtlF, gripCtlFErr) });

makeLinePanel({
  title: "Body weight", titleX: 601, titleY: 900, yLabel: "Body weight (g)", yTitleX: 503.3,
  left: 529, right: 673.3, top: 921.7, bottom: 1018.3, x8: 543.3, x24: 659, ageY: 1044,
  yMin: 10, yMax: 40, yStep: 10, xTicks: bodyAgeTicks, legend: true, legendGap: 12, canvasRight: 850,
  series: [
    { label: bodyLabels[0], vals: bodyCtlM, errs: bodyCtlMErr, style: styleCtlM },
    { label: bodyLabels[1], vals: bodyCtlF, errs: bodyCtlFErr, style: styleCtlF },
    { label: bodyLabels[2], vals: bodyMitM, errs: bodyMitMErr, style: styleMitM },
    { label: bodyLabels[3], vals: bodyMitF, errs: bodyMitFErr, style: styleMitF }
  ],
  stars: bodyStars
});
</script>
</body>
</html>
